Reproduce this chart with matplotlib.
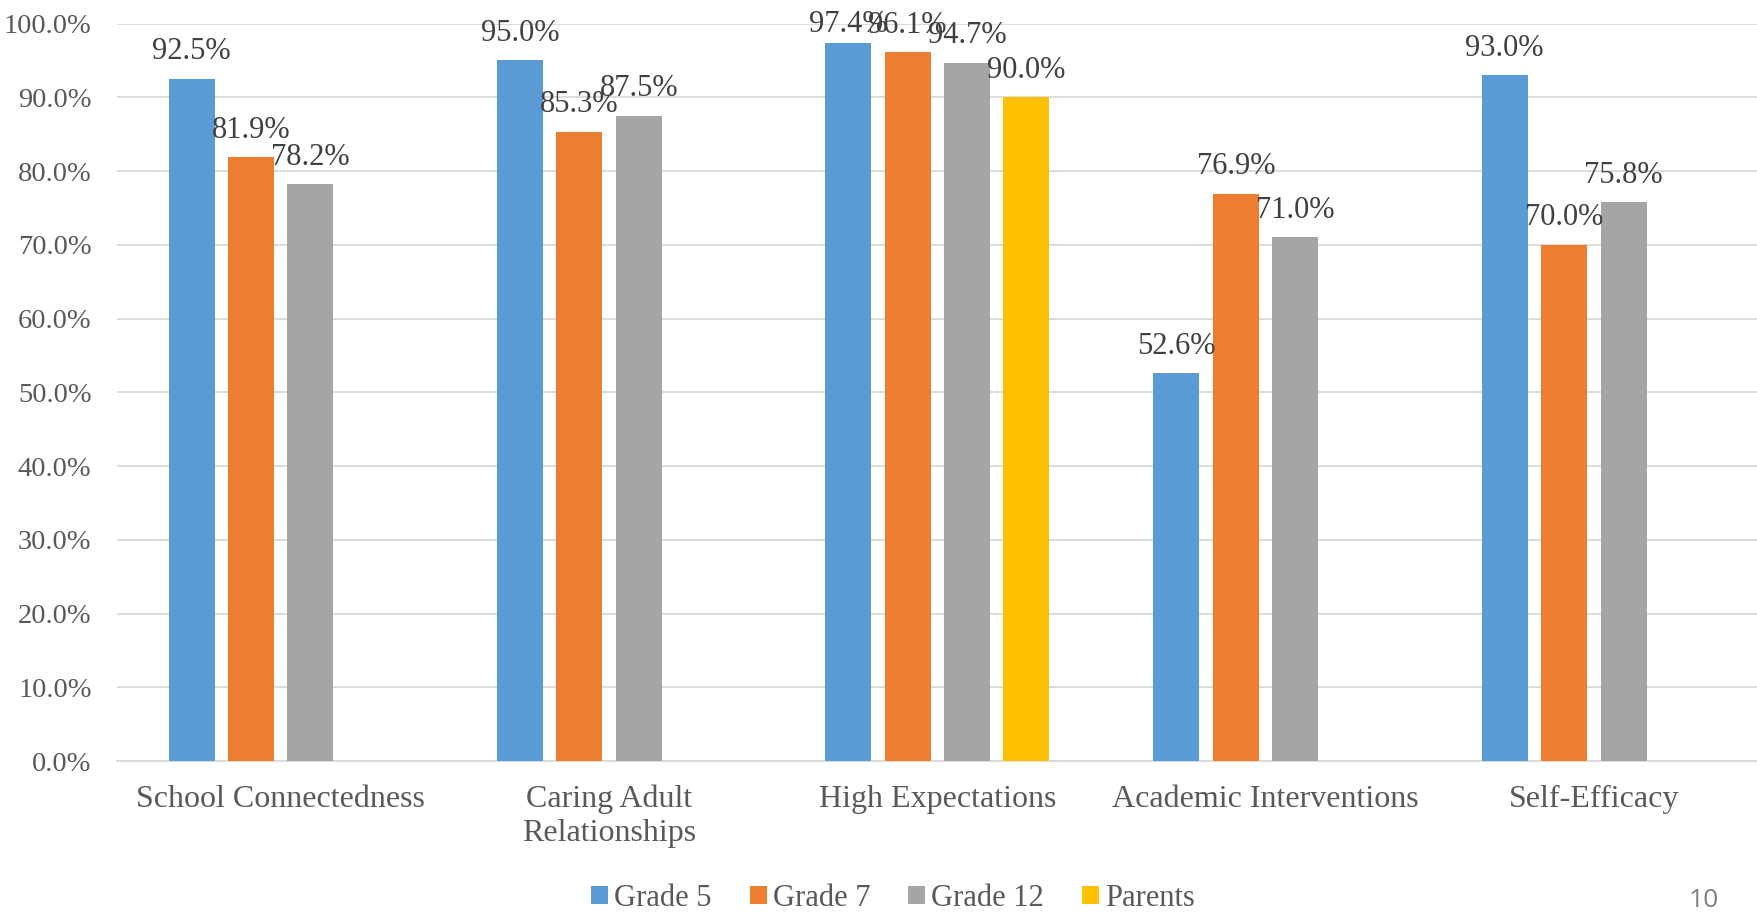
import numpy as np
import matplotlib.pyplot as plt
from matplotlib.ticker import PercentFormatter

categories = ["School Connectedness", "Caring Adult\nRelationships", "High Expectations",
              "Academic Interventions", "Self-Efficacy"]
series = ["Grade 5", "Grade 7", "Grade 12", "Parents"]
grade5 = [92.5, 95.0, 97.4, 52.6, 93.0]
grade7 = [81.9, 85.3, 96.1, 76.9, 70.0]
grade12 = [78.2, 87.5, 94.7, 71.0, 75.8]
parents = [np.nan, np.nan, 90.0, np.nan, np.nan]
colors = ["#5B9BD5", "#ED7D31", "#A5A5A5", "#FFC000"]

serif = ["Liberation Serif", "DejaVu Serif"]

fig = plt.figure(figsize=(17.58, 9.16), dpi=100)
ax = fig.add_axes([0.0663, 0.169, 0.9337, 0.8053])

x = np.arange(len(categories))
slot = 0.181
width = 0.14
labels = []
for i, (name, vals) in enumerate(zip(series, [grade5, grade7, grade12, parents])):
    vals = np.array(vals, dtype=float)
    pos = x + (i - 1.5) * slot
    ax.bar(pos, vals, width=width, color=colors[i], label=name, zorder=3)
    for px, v in zip(pos, vals):
        if np.isnan(v):
            continue
        t = ax.annotate(f"{v:.1f}%", (px, v), xytext=(0, 9), textcoords="offset points",
                        ha="center", va="bottom", fontsize=22, color="#404040",
                        family=serif, annotation_clip=False, zorder=4)
        labels.append(t)

ax.set_xlim(-0.5, len(categories) - 0.5)
ax.set_ylim(0, 100)
ax.set_yticks(np.arange(0, 101, 10))
ax.yaxis.set_major_formatter(PercentFormatter(decimals=1))
ax.set_xticks(x)
ax.set_xticklabels(categories, family=serif, fontsize=23, color="#595959", linespacing=1.22)
for lab in ax.get_yticklabels():
    lab.set_family(serif)
    lab.set_fontsize(20.5)
    lab.set_color("#595959")
ax.tick_params(axis="both", length=0)
ax.tick_params(axis="x", pad=17)
ax.tick_params(axis="y", pad=18)
ax.grid(axis="y", color="#D9D9D9", linewidth=1.3, zorder=0)
for s in ["top", "right", "left"]:
    ax.spines[s].set_visible(False)
ax.spines["bottom"].set_color("#D9D9D9")
ax.spines["bottom"].set_linewidth(1.3)

fig.legend(loc="center", bbox_to_anchor=(0.508, 0.019), ncol=4, frameon=False,
           prop={"family": serif, "size": 22}, labelcolor="#595959",
           handlelength=0.55, handleheight=0.55, handletextpad=0.2, columnspacing=1.25)

fig.text(0.969, 0.017, "10", fontsize=19, color="#7F7F7F", family=["Open Sans", "DejaVu Sans"],
         ha="center", va="center")

# keep data labels inside the chart area (like excel does)
fig.canvas.draw()
limit = 916 - 25
for t in labels:
    bb = t.get_window_extent()
    c = (bb.y0 + bb.y1) / 2
    if c > limit:
        t.xyann = (0, 9 - (c - limit) * 72 / fig.dpi)

fig.savefig("out.png", dpi=100)
